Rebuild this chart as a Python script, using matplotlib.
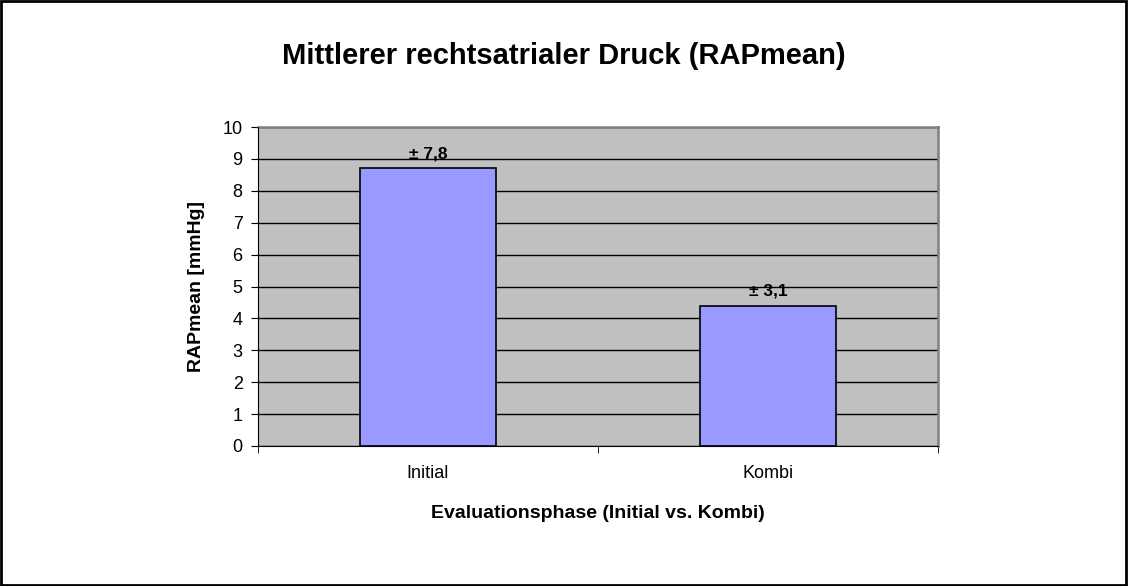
import matplotlib.pyplot as plt
from matplotlib.patches import Rectangle

plt.rcParams['font.family'] = ['Liberation Sans', 'DejaVu Sans']

phases = ['Initial', 'Kombi']
rap_mean = [8.7, 4.4]
sd_labels = ['± 7,8', '± 3,1']

fig = plt.figure(figsize=(11.28, 5.86), dpi=100)
ax = fig.add_axes([258/1128, 1-446/586, 680/1128, 319/586])

x = list(range(len(phases)))
ax.bar(x, rap_mean, width=0.4, color='#9999FF', edgecolor='black', linewidth=1.2, zorder=3)
for xi, v, s in zip(x, rap_mean, sd_labels):
    ax.text(xi, v + 0.22, s, ha='center', va='bottom', fontsize=12.5, fontweight='bold', zorder=4)

ax.set_xlim(-0.5, 1.5)
ax.set_ylim(0, 10)
ax.set_yticks(range(0, 11))
ax.set_xticks(x)
ax.set_xticklabels(phases, fontsize=13)
ax.set_xticks([-0.5, 0.5, 1.5], minor=True)
ax.tick_params(axis='x', which='major', length=0, pad=14)
ax.tick_params(axis='x', which='minor', length=5, direction='out', color='black')
ax.tick_params(axis='y', length=5, direction='out', labelsize=13, pad=6)
ax.set_facecolor('#C0C0C0')
ax.grid(axis='y', color='black', linewidth=1, zorder=0)
ax.set_axisbelow(True)
for side in ['top', 'right']:
    ax.spines[side].set_color('#808080')
    ax.spines[side].set_linewidth(1.8)
for side in ['left', 'bottom']:
    ax.spines[side].set_color('black')
    ax.spines[side].set_zorder(5)

ax.set_ylabel('RAPmean [mmHg]', fontsize=14, fontweight='bold', labelpad=13)
ax.set_xlabel('Evaluationsphase (Initial vs. Kombi)', fontsize=14, fontweight='bold', labelpad=16)
fig.text(0.5, 1-56/586, 'Mittlerer rechtsatrialer Druck (RAPmean)', ha='center', va='center',
         fontsize=21, fontweight='bold')

fig.patches.append(Rectangle((0.001, 0.001), 0.997, 0.997, transform=fig.transFigure,
                             fill=False, edgecolor='black', linewidth=2))

fig.savefig('out.png', dpi=100)
